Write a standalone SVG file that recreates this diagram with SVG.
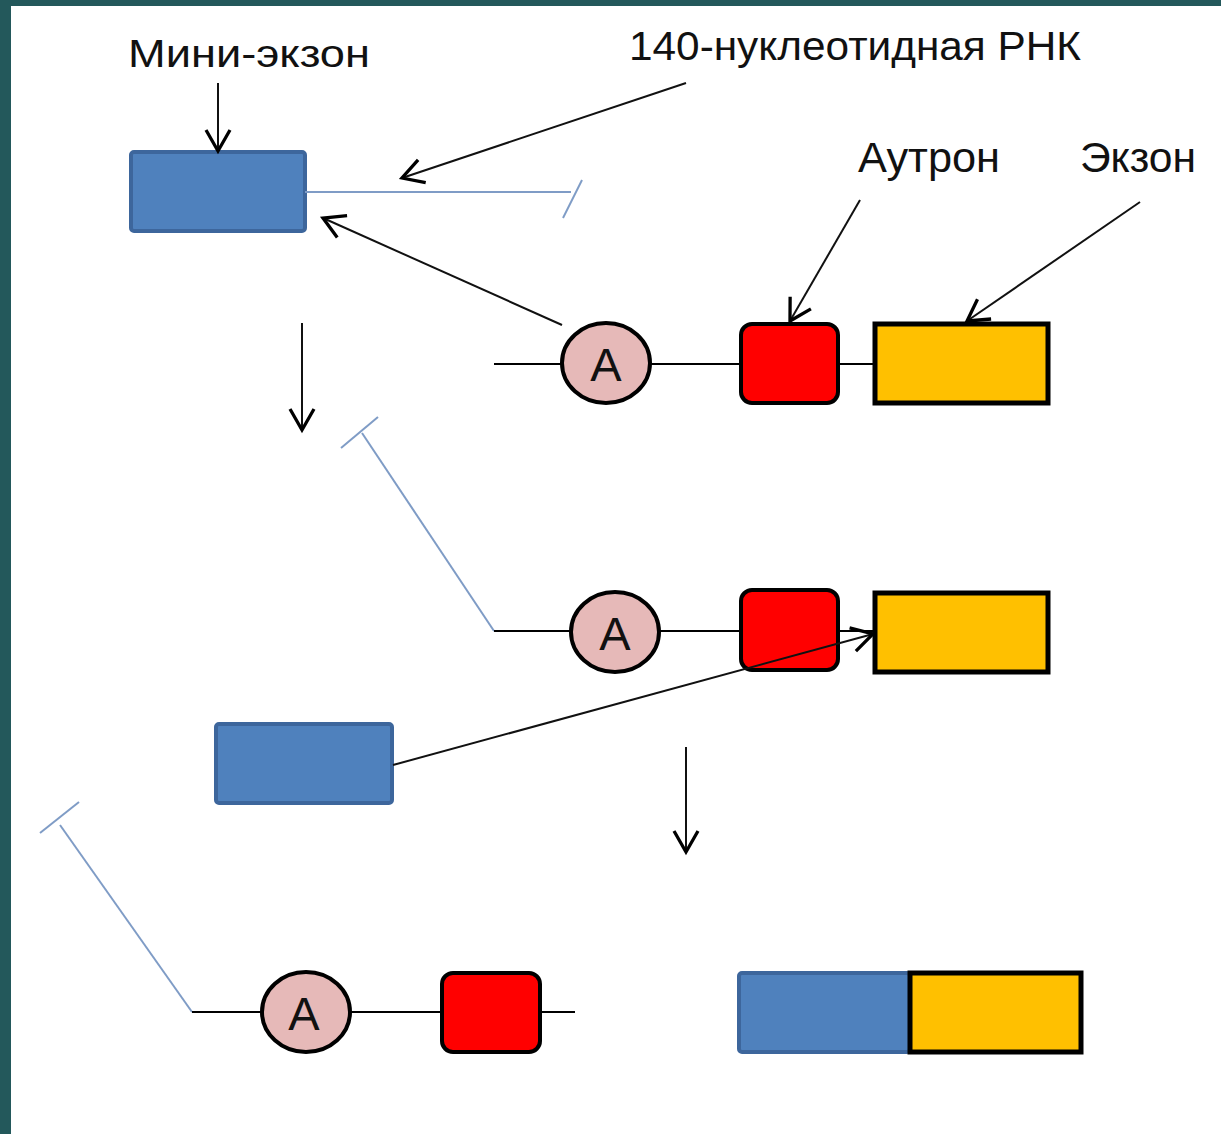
<svg xmlns="http://www.w3.org/2000/svg" width="1221" height="1134" viewBox="0 0 1221 1134">
<defs>
<marker id="ah" markerUnits="userSpaceOnUse" markerWidth="30" markerHeight="30" viewBox="-16 -10 20 20" refX="0" refY="0" orient="auto">
<path d="M-14,-8 L0,0 L-14,8" fill="none" stroke="#000" stroke-width="2.2"/>
</marker>
</defs>
<style>
.lbl{font-family:"Liberation Sans","Open Sans",sans-serif;fill:#111;}
.blue{fill:#4f81bd;stroke:#3d669c;stroke-width:4;}
.red{fill:#ff0000;stroke:#000;stroke-width:4;}
.yel{fill:#ffc000;stroke:#000;stroke-width:5;}
.circ{fill:#e6b9b8;stroke:#000;stroke-width:4;}
.al{font-family:"Liberation Sans","Open Sans",sans-serif;font-size:47px;fill:#111;text-anchor:middle;}
.bk{stroke:#000;stroke-width:2;fill:none;}
.arr{stroke:#111;stroke-width:2;fill:none;marker-end:url(#ah);}
.rna{stroke:#7f9cc6;stroke-width:2;fill:none;}
</style>
<rect x="0" y="0" width="1221" height="1134" fill="#23585b"/>
<rect x="11" y="6" width="1210" height="1128" fill="#ffffff"/>

<g id="labels">
<text class="lbl" x="128" y="67" font-size="38" textLength="242" lengthAdjust="spacingAndGlyphs">Мини-экзон</text>
<text class="lbl" x="629" y="60" font-size="40" textLength="452" lengthAdjust="spacingAndGlyphs">140-нуклеотидная РНК</text>
<text class="lbl" x="858" y="172" font-size="42" textLength="142" lengthAdjust="spacingAndGlyphs">Аутрон</text>
<text class="lbl" x="1080" y="172" font-size="42" textLength="116" lengthAdjust="spacingAndGlyphs">Экзон</text>
</g>

<g id="row1">
<g id="miniexon1"><rect class="blue" x="131" y="152" width="174" height="79" rx="3"/></g>
<g id="a1"><ellipse class="circ" cx="606" cy="363" rx="44" ry="40"/><text class="al" x="606" y="381">A</text></g>
<g id="autron1"><rect class="red" x="741" y="324" width="97" height="79" rx="11"/></g>
<g id="exon1"><rect class="yel" x="875" y="324" width="173" height="79"/></g>
</g>

<g id="row2">
<g id="a2"><ellipse class="circ" cx="615" cy="632" rx="44" ry="40"/><text class="al" x="615" y="650">A</text></g>
<g id="autron2"><rect class="red" x="741" y="590" width="97" height="80" rx="11"/></g>
<g id="exon2"><rect class="yel" x="875" y="593" width="173" height="79"/></g>
<g id="miniexon2"><rect class="blue" x="216" y="724" width="176" height="79" rx="3"/></g>
</g>

<g id="row3">
<g id="a3"><ellipse class="circ" cx="306" cy="1012" rx="44" ry="40"/><text class="al" x="304" y="1030">A</text></g>
<g id="autron3"><rect class="red" x="442" y="973" width="98" height="79" rx="11"/></g>
<g id="fused">
<rect class="blue" x="739" y="973" width="171" height="79" rx="3"/>
<rect class="yel" x="910" y="973" width="171" height="79"/>
</g>
</g>

<g id="connectors">
<line class="bk" x1="494" y1="364" x2="562" y2="364"/>
<line class="bk" x1="650" y1="364" x2="741" y2="364"/>
<line class="bk" x1="838" y1="364" x2="875" y2="364"/>
<line class="rna" x1="305" y1="192" x2="571" y2="192"/>
<line class="rna" x1="582" y1="180" x2="563" y2="218"/>
<line class="arr" x1="218" y1="83" x2="218" y2="151"/>
<line class="arr" x1="686" y1="83" x2="402" y2="178"/>
<line class="arr" x1="860" y1="200" x2="790" y2="321"/>
<line class="arr" x1="1140" y1="202" x2="967" y2="321"/>
<line class="arr" x1="562" y1="325" x2="323" y2="218"/>
<line class="arr" x1="302" y1="323" x2="302" y2="430"/>
<line class="arr" x1="686" y1="747" x2="686" y2="852"/>
<line class="rna" x1="378" y1="417" x2="341" y2="448"/>
<polyline class="rna" points="362,433 494,631"/>
<line class="bk" x1="494" y1="631" x2="571" y2="631"/>
<line class="bk" x1="659" y1="631" x2="741" y2="631"/>
<line class="bk" x1="838" y1="631" x2="875" y2="631"/>
<line class="arr" x1="393" y1="765" x2="873" y2="634"/>
<line class="rna" x1="79" y1="802" x2="40" y2="833"/>
<polyline class="rna" points="60,825 192,1012"/>
<line class="bk" x1="192" y1="1012" x2="262" y2="1012"/>
<line class="bk" x1="350" y1="1012" x2="442" y2="1012"/>
<line class="bk" x1="540" y1="1012" x2="575" y2="1012"/>
</g>
</svg>
